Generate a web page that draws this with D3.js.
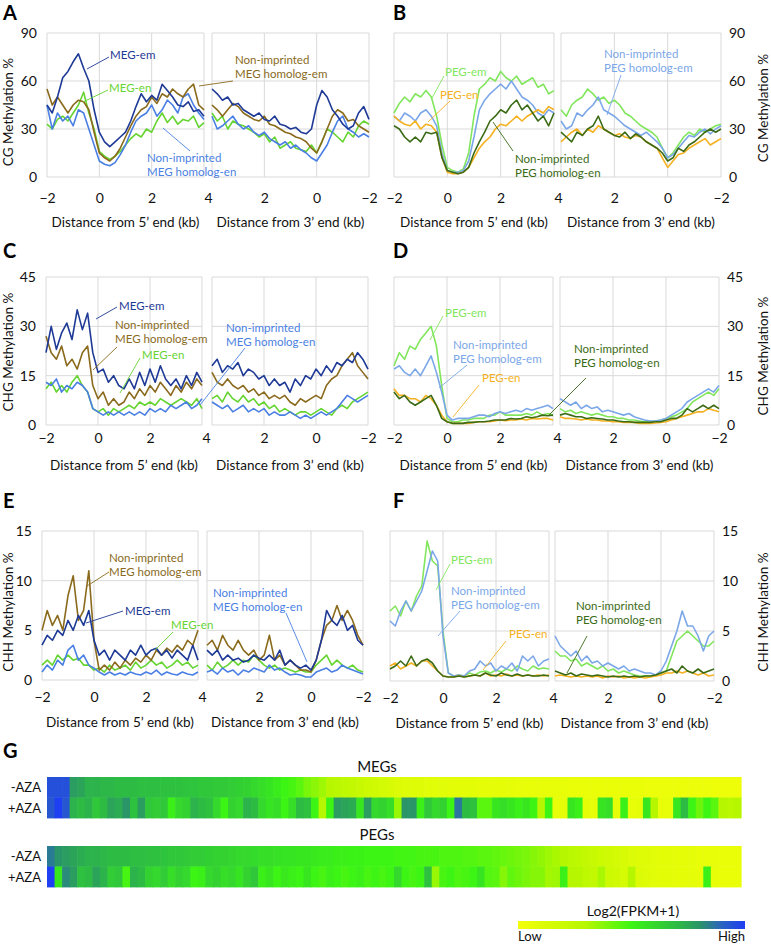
<!DOCTYPE html>
<html><head><meta charset="utf-8">
<script src="https://cdn.jsdelivr.net/npm/d3@7"></script>
<style>
body{margin:0;background:#fff}
text{font-family:Lato,'Open Sans',sans-serif}
</style>
</head><body>
<svg id="c" width="771" height="944"></svg>
<script>
// ---------- x positions (kb) ----------
const dist5 = [-2,-1.8,-1.6,-1.4,-1.2,-1,-0.8,-0.6,-0.4,-0.2,0,0.2,0.4,0.6,0.8,1,1.2,1.4,1.6,1.8,2,2.2,2.4,2.6,2.8,3,3.2,3.4,3.6,3.8,4];
const dist3 = [4,3.8,3.6,3.4,3.2,3,2.8,2.6,2.4,2.2,2,1.8,1.6,1.4,1.2,1,0.8,0.6,0.4,0.2,0,-0.2,-0.4,-0.6,-0.8,-1,-1.2,-1.4,-1.6,-1.8,-2];
const xTicks5 = [-2,0,2,4];
const xTicks3 = [2,0,-2];
const cgTicks = [0,30,60,90];
const chgTicks = [0,15,30,45];
const chhTicks = [0,5,10,15];

// ---------- A: CG, MEGs ----------
const aMegEm5 = [45,40,50,62,66,72,77,68,60,42,28,22,19,22,25,28,35,44,52,47,51,48,58,54,50,45,44,47,41,42,38];
const aMegEn5 = [33,30,36,38,35,40,45,53,40,30,16,13,11,13,16,20,24,27,25,30,28,35,40,34,38,33,36,35,38,31,34];
const aHomEm5 = [55,45,50,45,40,45,48,47,42,28,15,12,10,13,18,25,32,38,42,44,50,46,52,50,55,52,50,55,58,45,42];
const aHomEn5 = [45,30,40,35,38,32,42,40,30,20,10,8,7,9,14,20,28,35,38,40,45,38,42,48,45,40,50,52,45,40,36];
const aMegEm3 = [55,52,48,50,45,46,42,40,38,40,36,35,38,33,32,30,31,28,27,30,45,54,50,42,38,33,30,32,40,44,36];
const aMegEn3 = [40,35,38,30,35,33,32,30,28,25,27,22,25,18,20,22,18,17,16,20,15,22,30,28,25,22,28,25,32,35,33];
const aHomEm3 = [45,42,38,42,46,44,40,38,36,35,38,33,32,30,28,27,25,24,22,18,15,22,30,38,42,40,35,36,32,30,28];
const aHomEn3 = [38,30,32,35,38,33,30,32,28,26,28,24,22,20,22,18,20,17,15,12,10,15,20,28,35,38,30,28,25,27,25];

// ---------- B: CG, PEGs ----------
const bPegEm5 = [40,46,50,47,52,50,54,50,38,20,6,4,3,5,15,38,55,58,62,60,66,62,60,63,58,60,62,56,58,52,54];
const bPegEn5 = [38,35,33,32,35,30,33,32,28,12,3,2,2,3,6,12,18,22,25,30,33,32,35,38,35,38,40,42,40,44,42];
const bHomEm5 = [38,35,40,38,35,40,42,38,32,15,4,3,3,4,10,25,42,48,52,55,58,55,60,55,50,48,45,40,38,42,40];
const bHomEn5 = [32,30,25,22,25,22,28,27,28,12,4,3,2,3,6,15,22,28,35,38,42,40,45,48,42,45,40,35,38,32,40];
const bPegEm3 = [42,38,45,48,50,55,52,48,50,46,48,45,40,38,35,32,30,28,25,18,12,15,20,25,28,26,30,28,30,32,33];
const bPegEn3 = [22,25,28,30,26,30,28,32,30,28,26,27,25,24,26,25,22,20,18,12,6,10,14,15,18,20,22,24,20,22,24];
const bHomEm3 = [35,30,32,40,38,42,45,50,42,40,38,35,32,30,28,26,28,25,22,18,12,14,18,22,26,25,28,30,27,30,32];
const bHomEn3 = [28,25,22,28,26,30,32,38,30,28,26,25,28,24,27,25,22,20,18,15,10,12,18,16,20,22,25,28,30,28,30];

// ---------- C: CHG, MEGs ----------
const cMegEm5 = [22,30,23,28,31,26,35,29,34,22,16,17,13,15,12,11,14,11,16,12,17,13,18,14,12,14,11,15,12,16,13];
const cMegEn5 = [11,13,10,12,10,13,15,12,10,5,4,5,3,5,4,5,6,5,7,6,7,6,8,7,6,7,8,7,6,8,5];
const cHomEm5 = [27,22,20,24,18,20,17,22,24,12,8,10,6,8,6,7,10,8,11,9,12,10,13,11,9,12,10,13,11,14,12];
const cHomEn5 = [13,12,14,10,12,11,13,12,10,5,4,3,4,3,4,3,4,3,4,3,5,4,5,4,6,5,6,7,5,6,8];
const cMegEm3 = [18,20,16,18,17,19,15,17,16,14,15,12,14,12,13,10,14,12,15,14,17,15,18,16,19,18,20,19,22,20,17];
const cMegEn3 = [8,9,7,10,8,7,9,7,8,6,7,5,6,4,5,4,3,4,4,3,4,5,4,3,5,6,5,7,8,9,10];
const cHomEm3 = [16,13,12,14,12,11,12,10,11,9,10,8,9,8,9,7,6,8,7,8,9,8,12,14,15,18,20,22,18,16,14];
const cHomEn3 = [7,6,5,6,4,5,6,4,5,4,5,3,4,3,3,4,3,2,3,2,3,4,3,4,5,7,9,8,7,8,9];

// ---------- D: CHG, PEGs ----------
const dPegEm5 = [18,22,20,24,23,26,28,30,24,12,2,1,1,1.5,1.5,2,2,2,3,3,4,3,3,3,3,3.5,3,4,3,3.5,3];
const dPegEn5 = [11,9,9,8,8,7,9,8,6,3,1,0.5,0.5,0.5,0.5,0.8,1,1,1,1.2,1.5,1.3,1.5,1.5,1.8,1.5,2,1.8,2,2,1.5];
const dHomEm5 = [17,18,16,15,17,15,18,21,16,10,3,1.5,2,2,2,2.5,3,3,2.5,3.5,4,3.5,4,4.5,4,5,4.5,5,5.5,6,5];
const dHomEn5 = [10,8,9,7,6,7,8,9,6,2,1,0.5,0.5,0.5,0.8,0.8,1,1,1.2,1.5,1.5,1.5,2,1.8,2,2.5,2.2,2.5,3,2.8,3];
const dPegEm3 = [5,4,4.5,3.5,4,3.5,3,3.5,3,2.5,2.5,2,2,1.5,1.5,1.2,1,1,1.2,1.5,2,2.5,3,4,5,7,8,9,10,9,11];
const dPegEn3 = [2.5,2,2,1.8,1.5,1.8,1.5,1.5,1.2,1.2,1,1,0.8,0.8,0.8,0.5,0.5,0.5,0.6,0.8,1,1.5,2,2.5,3,3.5,4,4,5,4.5,4];
const dHomEm3 = [8,7,6,7,5,6,5,5.5,4,4.5,4,3.5,3,3.5,2.5,2,1.5,1.2,1.2,1.5,2,3,4,5,7,8,9,10,11,10,12];
const dHomEn3 = [3,3.5,3,2.5,2.5,2,2.2,2,1.8,1.5,1.5,1.2,1,1,0.8,0.8,0.8,0.8,1,1,1.5,2,2,3,5,4,5,6,5,6,5];

// ---------- E: CHH, MEGs ----------
const eMegEm5 = [3.5,4.5,4,5,4.5,6,5,6.5,5.5,7,4,2.5,3,2,3,2.5,2,3,2.5,3.5,2.5,3,3.2,2.5,3,2.2,3,2.5,2,3.5,2];
const eMegEn5 = [1.5,2,1.5,2.5,2,2.5,2,2.2,1.5,1.5,1,1.2,0.8,1.5,1,1.2,1.5,1,1.8,1.2,1.5,2,1.5,1.8,1.2,1.5,2,1.5,1.8,1.2,1.5];
const eHomEm5 = [5,7,5.5,6.5,5,8.5,10.5,6,7,11,4,1,1.5,1,1.8,1.2,2,1.5,2.2,1.8,2.5,2,3,2.5,3.2,2.8,3.5,3,4,3.5,5];
const eHomEn5 = [0.8,1.5,1,2,1.5,3,3.5,2,2.5,1.5,1.2,0.8,0.5,0.8,0.5,0.7,0.5,0.8,0.6,0.5,0.8,0.6,1,0.5,0.8,0.6,0.5,0.8,0.6,0.5,0.8];
const eMegEm3 = [3,2.5,3,2,2.5,2,2.2,1.8,2,2.5,2.2,2,2.5,2,3,1.5,2,1.5,1.2,1.5,1,2,4,7,6,5.5,6.5,5,5.5,4,3.5];
const eMegEn3 = [1.5,1,1.8,1.2,1.5,2,1.5,2,1.8,2.5,2,1.5,1.2,1.5,1,1.2,1,0.8,1,0.8,0.8,1.5,2,2.5,1.5,2,1.5,1.2,1.5,1,0.8];
const eHomEm3 = [3.5,4,3,4.5,3.5,3,4,3,2.5,3,2,2.5,4.5,2,2.5,1.5,2,1.5,1,1,0.8,2,4,5.5,6,7.5,6,7,6,4.5,3.5];
const eHomEn3 = [0.8,1,0.6,1.2,0.8,1,0.5,1,0.8,1.2,1,0.8,1.5,1,1.2,0.8,0.5,0.6,0.5,0.3,0.3,0.8,1,1.2,0.8,1,1.5,1.2,1,0.8,0.6];

// ---------- F: CHH, PEGs ----------
const fPegEm5 = [7,7.5,6.5,8,7,8.5,9.5,14,12,11.5,5,0.8,0.5,0.6,0.5,0.8,0.6,0.9,1,0.8,1.1,0.9,1.2,1,1.5,1.2,1,1.5,1.2,1.3,1.2];
const fPegEn5 = [1.5,1.8,1.2,1.5,1.8,1.5,2,2,1.5,1,0.5,0.4,0.4,0.5,0.4,0.5,0.6,0.5,0.8,0.5,0.6,0.5,0.7,0.5,0.6,0.5,0.6,0.5,0.6,0.5,0.6];
const fHomEm5 = [6,5.5,7,8,7,8,9,11,13,12,4.5,0.8,0.5,0.6,0.5,1,1.2,2,1.5,1.8,1,1.5,1.2,1.8,1,2.5,2,2.5,1.5,2,2.2];
const fHomEn5 = [1.2,1.5,2,1.5,2.5,1.5,2,2.2,1.8,1,0.5,0.4,0.4,0.5,0.4,0.5,0.6,0.5,0.8,0.6,0.5,0.8,0.6,0.5,0.7,0.5,0.6,0.5,0.5,0.6,0.5];
const fPegEm3 = [3,2.5,2.5,2,2.2,1.5,1.8,1.5,1.2,1.5,1,1.2,0.8,1,0.8,0.6,0.5,0.5,0.5,0.6,0.8,1,2.5,4,4.5,5,4.5,4,3.5,3.5,4];
const fPegEn3 = [0.5,0.6,0.5,0.4,0.5,0.4,0.5,0.4,0.5,0.3,0.5,0.4,0.5,0.3,0.4,0.3,0.4,0.3,0.4,0.5,0.6,0.8,0.8,1,0.8,1,0.8,0.6,0.8,0.5,0.6];
const fHomEm3 = [4.5,3.5,3,2.5,3,2,2.5,1.8,2,1.5,1.8,1.5,1.2,1.5,1,1.2,1,0.8,0.8,0.6,1,2,3.5,5,7,5.5,5.5,4.5,3,4.5,5];
const fHomEn3 = [1,0.8,0.6,0.8,0.5,0.7,0.6,0.5,0.6,0.5,0.4,0.5,0.4,0.5,0.4,0.5,0.4,0.5,0.5,0.6,0.8,1,1.2,0.8,1.5,1,0.8,1.2,0.8,1,1.2];

// ---------- G: heatmap (relative Log2(FPKM+1), 0 = low, 1 = high) ----------
const heatRows = ['-AZA','+AZA'];
const megMinus = [0.95,0.95,0.95,0.78,0.76,0.72,0.72,0.71,0.71,0.7,0.7,0.7,0.69,0.69,0.69,0.68,0.68,0.68,0.67,0.67,0.66,0.66,0.65,0.65,0.64,0.63,0.62,0.6,0.58,0.56,0.53,0.5,0.48,0.45,0.4,0.37,0.34,0.3,0.28,0.26,0.24,0.22,0.2,0.18,0.16,0.14,0.12,0.11,0.1,0.1,0.09,0.09,0.09,0.08,0.08,0.08,0.08,0.07,0.07,0.07,0.07,0.07,0.06,0.06,0.06,0.06,0.06,0.06,0.06,0.05,0.05,0.05,0.05,0.05,0.05,0.05,0.05,0.05,0.05,0.04,0.04,0.04,0.04,0.04,0.04,0.04,0.04,0.04,0.03,0.03,0.03,0.03];
const megPlus = [0.93,1.0,0.93,0.72,0.7,0.72,0.66,0.7,0.76,0.74,0.8,0.68,0.78,0.66,0.64,0.66,0.52,0.6,0.62,0.72,0.7,0.68,0.6,0.5,0.62,0.6,0.72,0.7,0.6,0.56,0.58,0.5,0.58,0.7,0.68,0.5,0.3,0.5,0.78,0.76,0.74,0.55,0.78,0.6,0.62,0.58,0.35,0.8,0.8,0.52,0.66,0.6,0.62,0.5,0.86,0.7,0.68,0.45,0.45,0.55,0.58,0.55,0.52,0.55,0.5,0.3,0.5,0.06,0.07,0.55,0.52,0.07,0.06,0.56,0.58,0.07,0.52,0.06,0.07,0.55,0.3,0.06,0.06,0.55,0.7,0.5,0.42,0.5,0.45,0.3,0.28,0.3];
const pegMinus = [0.85,0.8,0.78,0.76,0.74,0.72,0.72,0.71,0.7,0.7,0.7,0.69,0.69,0.68,0.68,0.67,0.66,0.66,0.65,0.64,0.64,0.63,0.62,0.62,0.61,0.6,0.6,0.59,0.58,0.58,0.57,0.56,0.56,0.55,0.55,0.54,0.53,0.53,0.52,0.52,0.51,0.51,0.5,0.5,0.5,0.5,0.49,0.49,0.49,0.48,0.48,0.48,0.47,0.47,0.47,0.46,0.46,0.45,0.45,0.44,0.43,0.42,0.41,0.4,0.38,0.36,0.34,0.32,0.3,0.28,0.26,0.24,0.22,0.2,0.18,0.16,0.14,0.12,0.11,0.1,0.09,0.08,0.08,0.07,0.07,0.07,0.06,0.06,0.06,0.05,0.05,0.05];
const pegPlus = [1.0,0.55,0.82,0.78,0.68,0.7,0.76,0.72,0.64,0.66,0.48,0.72,0.7,0.62,0.6,0.64,0.58,0.62,0.6,0.5,0.52,0.6,0.62,0.58,0.6,0.56,0.62,0.66,0.52,0.55,0.5,0.54,0.52,0.5,0.55,0.5,0.48,0.52,0.5,0.48,0.5,0.52,0.48,0.5,0.48,0.5,0.6,0.5,0.48,0.5,0.68,0.35,0.48,0.5,0.47,0.48,0.5,0.56,0.46,0.45,0.38,0.44,0.42,0.4,0.38,0.38,0.33,0.34,0.52,0.3,0.3,0.26,0.24,0.32,0.2,0.18,0.15,0.3,0.12,0.1,0.09,0.08,0.08,0.07,0.07,0.07,0.06,0.52,0.06,0.05,0.05,0.05];

// ---------- styles ----------
const C = {
  megEm:'#1e3a96', megEn:'#66d431', homMEm:'#8a6a1c', homMEn:'#4a7fe3',
  pegEm:'#82e65c', pegEn:'#f5b120', homPEm:'#7ba7e8', homPEn:'#3b6b16'
};
const GRID = '#d9d9d9';
const svg = d3.select('#c');
svg.append('rect').attr('width',771).attr('height',944).attr('fill','#fff');

const panels = [
 {label:'A', lx:3, ly:20, x5:47, x3:212, w:157, top:33, bottom:177, ymax:90, yt:cgTicks, title:'CG Methylation %', tcy:112, side:'left', tickGap:21, titleGap:45,
  series:[[aMegEn5,aMegEn3,C.megEn],[aHomEn5,aHomEn3,C.homMEn],[aHomEm5,aHomEm3,C.homMEm],[aMegEm5,aMegEm3,C.megEm]],
  notes:[
   {t:['MEG-em'],x:110,y:54,c:C.megEm,l:[87,69,109,57]},
   {t:['MEG-en'],x:109,y:87,c:C.megEn,l:[83,102,108,90]},
   {t:['Non-imprinted','MEG homolog-em'],x:235,y:59,c:C.homMEm,l:[199,86,233,81]},
   {t:['Non-imprinted','MEG homolog-en'],x:147,y:157,c:C.homMEn,l:[163,128,190,151]}]},
 {label:'B', lx:393, ly:20, x5:394, x3:561, w:160, top:33, bottom:177, ymax:90, yt:cgTicks, title:'CG Methylation %', tcy:108, side:'right', tickGap:21, titleGap:45,
  series:[[bPegEm5,bPegEm3,C.pegEm],[bHomEm5,bHomEm3,C.homPEm],[bPegEn5,bPegEn3,C.pegEn],[bHomEn5,bHomEn3,C.homPEn]],
  notes:[
   {t:['PEG-em'],x:445,y:71,c:C.pegEm,l:[432,98,444,76]},
   {t:['PEG-en'],x:440,y:94,c:C.pegEn,l:[428,122,450,101]},
   {t:['Non-imprinted','PEG homolog-en'],x:515,y:158,c:C.homPEn,l:[493,122,513,151]},
   {t:['Non-imprinted','PEG homolog-em'],x:604,y:53,c:C.homPEm,l:[607,115,621,75]}]},
 {label:'C', lx:3, ly:258, x5:46, x3:212, w:156, top:277, bottom:425, ymax:45, yt:chgTicks, title:'CHG Methylation %', tcy:352, side:'left', tickGap:13, titleGap:40,
  series:[[cMegEn5,cMegEn3,C.megEn],[cHomEn5,cHomEn3,C.homMEn],[cHomEm5,cHomEm3,C.homMEm],[cMegEm5,cMegEm3,C.megEm]],
  notes:[
   {t:['MEG-em'],x:119,y:305,c:C.megEm,l:[96,319,117,307]},
   {t:['Non-imprinted','MEG homolog-em'],x:115,y:324,c:C.homMEm,l:[93,370,117,347]},
   {t:['MEG-en'],x:142,y:354,c:C.megEn,l:[120,393,140,358]},
   {t:['Non-imprinted','MEG homolog-en'],x:226,y:327,c:C.homMEn,l:[200,405,245,348]}]},
 {label:'D', lx:393, ly:258, x5:394, x3:560, w:159, top:277, bottom:425, ymax:45, yt:chgTicks, title:'CHG Methylation %', tcy:356, side:'right', tickGap:13, titleGap:40,
  series:[[dPegEm5,dPegEm3,C.pegEm],[dHomEm5,dHomEm3,C.homPEm],[dPegEn5,dPegEn3,C.pegEn],[dHomEn5,dHomEn3,C.homPEn]],
  notes:[
   {t:['PEG-em'],x:445,y:312,c:C.pegEm,l:[430,340,443,316]},
   {t:['Non-imprinted','PEG homolog-em'],x:453,y:344,c:C.homPEm,l:[439,388,467,365]},
   {t:['PEG-en'],x:482,y:377,c:C.pegEn,l:[453,417,479,385]},
   {t:['Non-imprinted','PEG homolog-en'],x:574,y:348,c:C.homPEn,l:[549,415,586,378]}]},
 {label:'E', lx:3, ly:508, x5:42, x3:207, w:156, top:531, bottom:680, ymax:15, yt:chhTicks, title:'CHH Methylation %', tcy:612, side:'left', tickGap:17, titleGap:42,
  series:[[eMegEn5,eMegEn3,C.megEn],[eHomEn5,eHomEn3,C.homMEn],[eHomEm5,eHomEm3,C.homMEm],[eMegEm5,eMegEm3,C.megEm]],
  notes:[
   {t:['Non-imprinted','MEG homolog-em'],x:109,y:557,c:C.homMEm,l:[87,586,109,572]},
   {t:['MEG-em'],x:125,y:610,c:C.megEm,l:[86,623,123,611]},
   {t:['MEG-en'],x:171,y:624,c:C.megEn,l:[155,650,173,632]},
   {t:['Non-imprinted','MEG homolog-en'],x:213,y:592,c:C.homMEn,l:[286,613,307,662]}]},
 {label:'F', lx:393, ly:508, x5:390, x3:555, w:159, top:531, bottom:681, ymax:15, yt:chhTicks, title:'CHH Methylation %', tcy:612, side:'right', tickGap:17, titleGap:42,
  series:[[fPegEm5,fPegEm3,C.pegEm],[fHomEm5,fHomEm3,C.homPEm],[fPegEn5,fPegEn3,C.pegEn],[fHomEn5,fHomEn3,C.homPEn]],
  notes:[
   {t:['PEG-em'],x:451,y:559,c:C.pegEm,l:[436,590,450,564]},
   {t:['Non-imprinted','PEG homolog-em'],x:451,y:590,c:C.homPEm,l:[438,636,460,611]},
   {t:['PEG-en'],x:509,y:633,c:C.pegEn,l:[483,670,506,641]},
   {t:['Non-imprinted','PEG homolog-en'],x:576,y:605,c:C.homPEn,l:[567,673,587,636]}]}
];

function drawPanel(p){
  const g = svg.append('g');
  const y = d3.scaleLinear().domain([0,p.ymax]).range([p.bottom,p.top]);
  const x5 = d3.scaleLinear().domain([-2,4]).range([p.x5,p.x5+p.w]);
  const x3 = d3.scaleLinear().domain([4,-2]).range([p.x3,p.x3+p.w]);
  // grids
  [[x5,[-2,0,2,4]],[x3,[4,2,0,-2]]].forEach(([xs,tv])=>{
    const gg = g.append('g');
    gg.selectAll('line.h').data(p.yt).join('line')
      .attr('x1',xs.range()[0]).attr('x2',xs.range()[1])
      .attr('y1',d=>y(d)).attr('y2',d=>y(d)).attr('stroke',GRID).attr('stroke-width',1);
    gg.selectAll('line.v').data(tv).join('line')
      .attr('x1',d=>xs(d)).attr('x2',d=>xs(d))
      .attr('y1',p.top).attr('y2',p.bottom).attr('stroke',GRID).attr('stroke-width',1);
  });
  // lines
  const l5 = d3.line().x((d,i)=>x5(dist5[i])).y(d=>y(d));
  const l3 = d3.line().x((d,i)=>x3(dist3[i])).y(d=>y(d));
  p.series.forEach(([v5,v3,col])=>{
    g.append('path').attr('d',l5(v5)).attr('fill','none').attr('stroke',col).attr('stroke-width',1.6).attr('stroke-linejoin','round');
    g.append('path').attr('d',l3(v3)).attr('fill','none').attr('stroke',col).attr('stroke-width',1.6).attr('stroke-linejoin','round');
  });
  // x axes
  const ax5 = g.append('g').attr('transform',`translate(0,${p.bottom})`)
    .call(d3.axisBottom(x5).tickValues(xTicks5).tickSize(0).tickPadding(p.tickGap-5).tickFormat(d3.format('d')));
  ax5.selectAll('text').filter(d=>d===4).attr('dx','4px');
  const ax3 = g.append('g').attr('transform',`translate(0,${p.bottom})`)
    .call(d3.axisBottom(x3).tickValues(xTicks3).tickSize(0).tickPadding(p.tickGap-5).tickFormat(d3.format('d')));
  [ax5,ax3].forEach(a=>{a.select('.domain').remove(); a.selectAll('text').attr('font-size',14).attr('fill','#111').attr('font-family','Lato,sans-serif');});
  // y axis
  let ay;
  if(p.side==='left'){
    ay = g.append('g').attr('transform',`translate(${p.x5},0)`).call(d3.axisLeft(y).tickValues(p.yt).tickSize(0).tickPadding(10));
  } else {
    ay = g.append('g').attr('transform',`translate(${p.x3+p.w},0)`).call(d3.axisRight(y).tickValues(p.yt).tickSize(0).tickPadding(8));
  }
  ay.select('.domain').remove();
  ay.selectAll('text').attr('font-size',14).attr('fill','#111').attr('font-family','Lato,sans-serif');
  // axis titles
  const ty = p.bottom + p.titleGap + 5;
  g.append('text').attr('x',(x5.range()[0]+x5.range()[1])/2).attr('y',ty).attr('text-anchor','middle')
    .attr('font-size',13.5).attr('fill','#111').text('Distance from 5\u2019 end (kb)');
  g.append('text').attr('x',(x3.range()[0]+x3.range()[1])/2).attr('y',ty).attr('text-anchor','middle')
    .attr('font-size',13.5).attr('fill','#111').text('Distance from 3\u2019 end (kb)');
  const tx = p.side==='left' ? 8 : 763;
  g.append('text').attr('transform',`translate(${tx},${p.tcy}) rotate(-90)`).attr('text-anchor','middle')
    .attr('dominant-baseline','central').attr('font-size',13.5).attr('fill','#111').text(p.title);
  // panel label
  g.append('text').attr('x',p.lx).attr('y',p.ly).attr('font-size',20).attr('font-weight','bold')
    .attr('font-family','Liberation Sans, Arial, sans-serif').attr('fill','#000').text(p.label);
  // annotations
  p.notes.forEach(n=>{
    g.append('line').attr('x1',n.l[0]).attr('y1',n.l[1]).attr('x2',n.l[2]).attr('y2',n.l[3])
      .attr('stroke',n.c).attr('stroke-width',0.9);
    n.t.forEach((s,i)=>{
      g.append('text').attr('x',n.x).attr('y',n.y+i*14.5).attr('dominant-baseline','central')
        .attr('font-size',11.5).attr('fill',n.c).text(s);
    });
  });
}
panels.forEach(drawPanel);

// ---------- G heatmap ----------
const heatColor = d3.scaleLinear()
  .domain([0,0.3,0.5,0.7,0.8,0.9,1])
  .range(['#f4ff0a','#b6f700','#3cf514','#2dbb44','#2a9568','#2a62c2','#1f3ff2']);
const nCols = megMinus.length;
const xb = d3.scaleBand().domain(d3.range(nCols)).range([47,741]);
svg.append('text').attr('x',3).attr('y',758).attr('font-size',20).attr('font-weight','bold')
  .attr('font-family','Liberation Sans, Arial, sans-serif').text('G');
function heat(title, ty, top, bottom, rowsData){
  svg.append('text').attr('x',377).attr('y',ty).attr('text-anchor','middle').attr('font-size',15).attr('fill','#111').text(title);
  const yb = d3.scaleBand().domain(heatRows).range([top,bottom]);
  heatRows.forEach((r,ri)=>{
    svg.append('g').selectAll('rect').data(rowsData[ri]).join('rect')
      .attr('x',(d,i)=>xb(i)).attr('y',yb(r)).attr('width',xb.bandwidth()+0.6).attr('height',yb.bandwidth()+0.4)
      .attr('fill',d=>heatColor(d));
    svg.append('text').attr('x',41).attr('y',yb(r)+yb.bandwidth()/2).attr('text-anchor','end')
      .attr('dominant-baseline','central').attr('font-size',13).attr('fill','#111').text(r);
  });
}
heat('MEGs', 772, 777, 818, [megMinus, megPlus]);
heat('PEGs', 840, 846, 887, [pegMinus, pegPlus]);

// colour bar
const defs = svg.append('defs');
const grad = defs.append('linearGradient').attr('id','cb');
d3.range(0,1.0001,0.05).forEach(t=>grad.append('stop').attr('offset',t).attr('stop-color',heatColor(t)));
const cbScale = d3.scaleLinear().domain([0,1]).range([518,745]);
svg.append('rect').attr('x',cbScale(0)).attr('y',921).attr('width',cbScale(1)-cbScale(0)).attr('height',8).attr('fill','url(#cb)');
svg.append('text').attr('x',633).attr('y',910).attr('text-anchor','middle').attr('dominant-baseline','central').attr('font-size',14).attr('fill','#111').text('Log2(FPKM+1)');
svg.append('text').attr('x',cbScale(0)).attr('y',941).attr('font-size',13).attr('fill','#111').text('Low');
svg.append('text').attr('x',cbScale(1)).attr('y',941).attr('text-anchor','end').attr('font-size',13).attr('fill','#111').text('High');
</script>
</body></html>
